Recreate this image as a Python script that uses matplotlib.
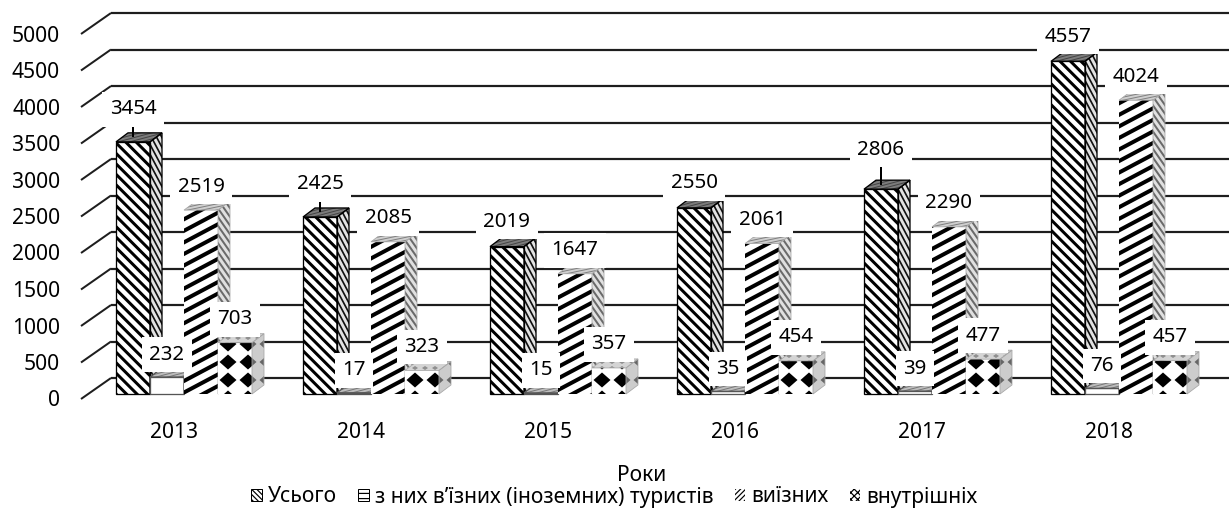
import numpy as np
import matplotlib
matplotlib.use("Agg")
import matplotlib.pyplot as plt
from matplotlib.patches import Polygon, Patch
from matplotlib.collections import LineCollection, PolyCollection

# ---------------- data ----------------
years = ["2013", "2014", "2015", "2016", "2017", "2018"]
total = [3454, 2425, 2019, 2550, 2806, 4557]
inbound = [232, 17, 15, 35, 39, 76]
outbound = [2519, 2085, 1647, 2061, 2290, 4024]
domestic = [703, 323, 357, 454, 477, 457]
series_labels = ["Усього", "з них в’їзних (іноземних) туристів", "виїзних", "внутрішніх"]
y_ticks = [0, 500, 1000, 1500, 2000, 2500, 3000, 3500, 4000, 4500, 5000]
x_title = "Роки"

# ---------------- geometry / style ----------------
W, H, DPI = 1229, 513, 62.5
plt.rcParams['font.family'] = ['Noto Sans', 'DejaVu Sans']


def pt(px):
    return px * 72.0 / DPI


FS = pt(21)
FS_LAB = pt(20.5)
X0, STEP = 116.0, 187.0     # px of first group's left edge, px between groups
Y0, K = 394.0, 0.073        # px of bar base, px per value unit
BAR_W = 34.0
DEP_X, DEP_Y = 12.0, 9.0
GRID = '#1e1e1e'


def dxp(px):
    return px / STEP


def dyp(px):
    return px / K


fig = plt.figure(figsize=(W / DPI, H / DPI), dpi=DPI)
ax = fig.add_axes([0, 0, 1, 1])
ax.set_xlim(-X0 / STEP, (W - X0) / STEP)
ax.set_ylim((Y0 - H) / K, Y0 / K)
ax.axis('off')
XR = ax.get_xlim()[1]


def to_px(verts):
    return np.array([(x * STEP, y * K) for x, y in verts])


def stripes(patch, verts, angle, spacing, lw, color, z):
    P = to_px(verts)
    a = np.deg2rad(angle)
    d = np.array([np.cos(a), np.sin(a)])
    n = np.array([-np.sin(a), np.cos(a)])
    tn, td = P @ n, P @ d
    t0 = np.floor(tn.min() / spacing) * spacing
    ts = np.arange(t0, tn.max() + spacing, spacing)
    s0, s1 = td.min() - 3, td.max() + 3
    segs = []
    for t in ts:
        p0 = t * n + s0 * d
        p1 = t * n + s1 * d
        segs.append([(p0[0] / STEP, p0[1] / K), (p1[0] / STEP, p1[1] / K)])
    lc = LineCollection(segs, colors=color, linewidths=pt(lw), zorder=z,
                        capstyle='butt')
    ax.add_collection(lc)
    lc.set_clip_path(patch)


def diamonds(patch, verts, origin, period, half, color, z):
    P = to_px(verts)
    ox, oy = origin
    px, py = period
    hx, hy = half
    xs = np.arange(ox + np.floor((P[:, 0].min() - ox) / px - 1) * px, P[:, 0].max() + px, px)
    ys = np.arange(oy + np.floor((P[:, 1].min() - oy) / py - 1) * py, P[:, 1].max() + py, py)
    polys = []
    for cx in xs:
        for cy in ys:
            polys.append([((cx - hx) / STEP, cy / K), (cx / STEP, (cy + hy) / K),
                          ((cx + hx) / STEP, cy / K), (cx / STEP, (cy - hy) / K)])
    pc = PolyCollection(polys, facecolors=color, edgecolors='none', zorder=z)
    ax.add_collection(pc)
    pc.set_clip_path(patch)


def draw_bar(left, v, kind, z):
    w = dxp(BAR_W)
    ddx, ddy = dxp(DEP_X), dyp(DEP_Y)
    fverts = [(left, 0), (left + w, 0), (left + w, v), (left, v)]
    sverts = [(left + w, 0), (left + w + ddx, ddy), (left + w + ddx, v + ddy), (left + w, v)]
    tverts = [(left, v), (left + w, v), (left + w + ddx, v + ddy), (left + ddx, v + ddy)]
    if kind == 0:
        fc, sc, tc, ec = 'white', '#e2e2e2', '#7c7c7c', 'black'
    elif kind == 1:
        fc, sc, tc, ec = 'white', '#d6d6d6', '#bdbdbd', '#555555'
    elif kind == 2:
        fc, sc, tc, ec = 'white', '#e0e0e0', '#cfcfcf', 'none'
    else:
        fc, sc, tc, ec = 'white', '#cccccc', '#d4d4d4', 'none'
    front = ax.bar(left, v, width=w, align='edge', color=fc, edgecolor='none', zorder=z)[0]
    side = Polygon(sverts, closed=True, fc=sc, ec='none', zorder=z)
    top = Polygon(tverts, closed=True, fc=tc, ec='none', zorder=z)
    ax.add_patch(side)
    ax.add_patch(top)
    zp = z + 0.01
    if kind == 0:
        stripes(front, fverts, -45, 7.4, 3.0, 'black', zp)
        stripes(side, sverts, -62, 4.6, 1.7, '#111111', zp)
        stripes(top, tverts, 15, 3.0, 1.0, '#444444', zp)
    elif kind == 1:
        stripes(top, tverts, 15, 3.0, 1.0, '#777777', zp)
    elif kind == 2:
        stripes(front, fverts, 28, 10.2, 4.0, 'black', zp)
        stripes(side, sverts, -55, 5.0, 2.0, '#6a6a6a', zp)
        stripes(top, tverts, 12, 3.0, 1.0, '#808080', zp)
    else:
        P = to_px(fverts)
        org = (P[0, 0] + 10, P[0, 1] + 14)
        diamonds(front, fverts, org, (20, 18), (8.5, 7.5), 'black', zp)
        diamonds(side, sverts, org, (20, 18), (8.5, 7.5), '#666666', zp)
        diamonds(top, tverts, org, (10, 6), (3, 2), '#8f8f8f', zp)
    ze = z + 0.02
    if ec != 'none':
        for verts in (fverts, sverts, tverts):
            ax.add_patch(Polygon(verts, closed=True, fill=False, ec=ec,
                                 lw=pt(1.3), zorder=ze))
    else:
        for verts in (sverts, tverts):
            ax.add_patch(Polygon(verts, closed=True, fill=False, ec='#a8a8a8',
                                 lw=pt(0.8), zorder=ze))


# ---------------- walls / grid ----------------
wall_x0, wall_x1 = dxp(81 - X0), dxp(111 - X0)
for v in y_ticks:
    ax.plot([wall_x0, wall_x1], [v - dyp(5), v + dyp(16)], color=GRID,
            lw=pt(2.0), zorder=1, solid_capstyle='butt')
    ax.plot([wall_x1, XR], [v + dyp(16), v + dyp(16)], color=GRID,
            lw=pt(2.2), zorder=1, solid_capstyle='butt')
    ax.text(dxp(60 - X0), v - dyp(12.5), f"{v}", ha='right', va='baseline',
            fontsize=FS, color='black')

# ---------------- bars ----------------
series = [total, inbound, outbound, domestic]
label_lift = [27, 25, 26, 26]
total_extra = [8, 8, 0, 0, 15, 0]
for i in range(len(years)):
    for j, vals in enumerate(series):
        v = vals[i]
        left = i + dxp(BAR_W * j)
        z = 2 + 0.1 * (i * 4 + j)
        draw_bar(left, v, j, z)
        cx = left + dxp(BAR_W) / 2
        extra = total_extra[i] if j == 0 else 0
        yc = v + dyp(label_lift[j] + extra)
        ax.text(cx, yc - dyp(7.5), f"{v}", ha='center', va='baseline',
                fontsize=FS_LAB, zorder=20,
                bbox=dict(boxstyle='square,pad=0.36', fc='white', ec='none'))
        if extra > 0:
            ax.plot([cx, cx], [yc - dyp(17.5), v + dyp(DEP_Y / 2)], color='black',
                    lw=pt(2), zorder=19, solid_capstyle='butt')
    ax.text(i + dxp(58), -dyp(43.5), years[i], ha='center', va='baseline',
            fontsize=FS, color='black')

ax.text(dxp(642 - X0), -dyp(87), x_title, ha='center', va='baseline',
        fontsize=FS, color='black')

# ---------------- legend ----------------
plt.rcParams['hatch.linewidth'] = pt(1.2)
handles = [
    Patch(facecolor='white', edgecolor='black', hatch='\\\\\\\\', lw=pt(1)),
    Patch(facecolor='white', edgecolor='black', hatch='--', lw=pt(1)),
    Patch(facecolor='white', edgecolor='black', hatch='////', lw=pt(0)),
    Patch(facecolor='white', edgecolor='black', hatch='xxx', lw=pt(0)),
]
fig.legend(handles, series_labels, loc='center', bbox_to_anchor=(0.5, 1 - 497 / H),
           ncol=4, frameon=False, fontsize=FS, handlelength=0.5, handleheight=0.5,
           handletextpad=0.3, columnspacing=1.0, borderaxespad=0, borderpad=0)

fig.savefig("out.png", dpi=DPI, facecolor='white')
